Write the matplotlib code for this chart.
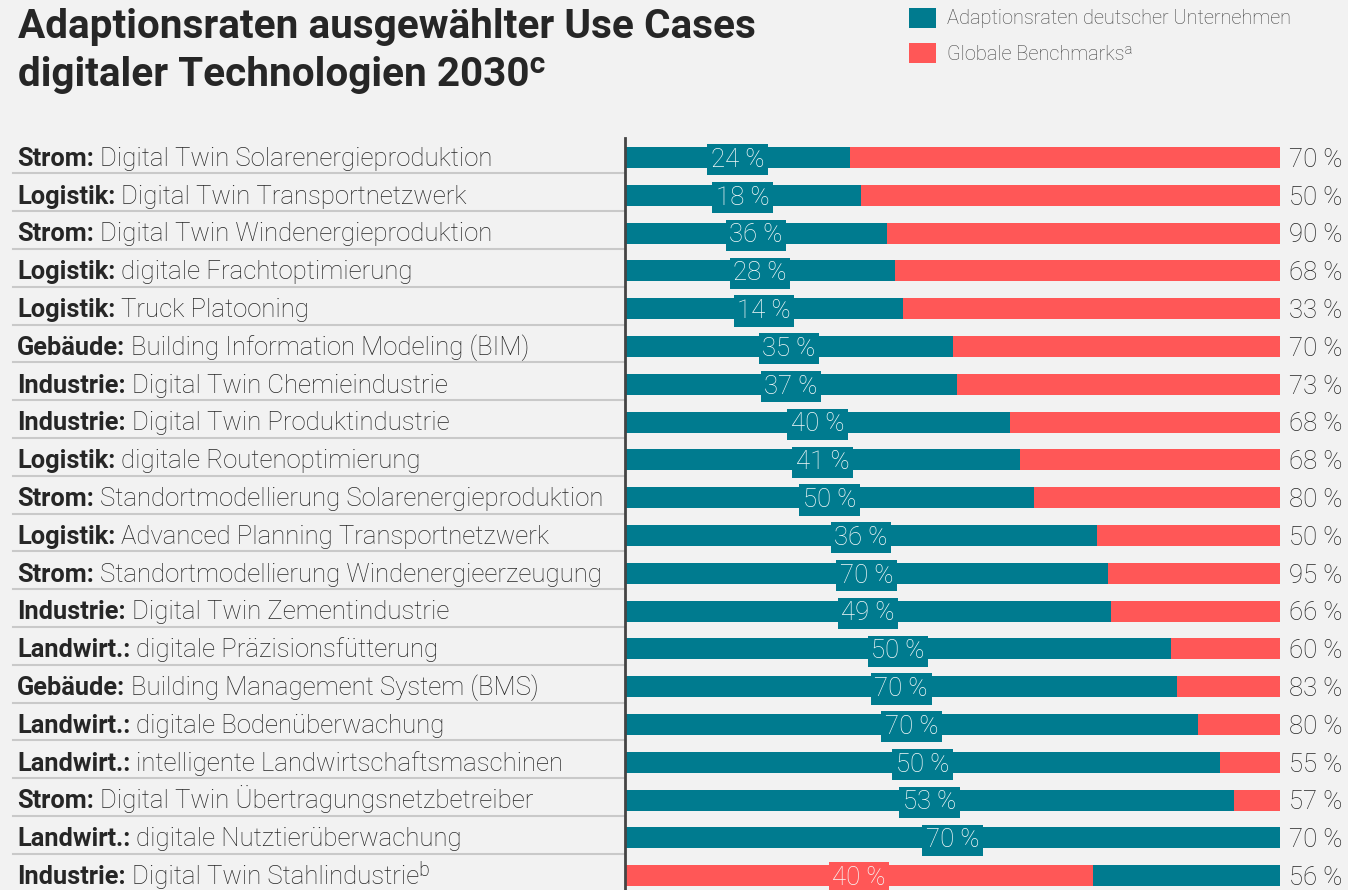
import matplotlib
matplotlib.use("Agg")
import matplotlib.pyplot as plt
from matplotlib.patches import Rectangle
from matplotlib.transforms import blended_transform_factory

# Data
categories = [
    "Strom:", "Logistik:", "Strom:", "Logistik:", "Logistik:",
    "Gebäude:", "Industrie:", "Industrie:", "Logistik:", "Strom:",
    "Logistik:", "Strom:", "Industrie:", "Landwirt.:", "Gebäude:",
    "Landwirt.:", "Landwirt.:", "Strom:", "Landwirt.:", "Industrie:",
]
use_cases = [
    "Digital Twin Solarenergieproduktion",
    "Digital Twin Transportnetzwerk",
    "Digital Twin Windenergieproduktion",
    "digitale Frachtoptimierung",
    "Truck Platooning",
    "Building Information Modeling (BIM)",
    "Digital Twin Chemieindustrie",
    "Digital Twin Produktindustrie",
    "digitale Routenoptimierung",
    "Standortmodellierung Solarenergieproduktion",
    "Advanced Planning Transportnetzwerk",
    "Standortmodellierung Windenergieerzeugung",
    "Digital Twin Zementindustrie",
    "digitale Präzisionsfütterung",
    "Building Management System (BMS)",
    "digitale Bodenüberwachung",
    "intelligente Landwirtschaftsmaschinen",
    "Digital Twin Übertragungsnetzbetreiber",
    "digitale Nutztierüberwachung",
    "Digital Twin Stahlindustrie\u1d47",
]
de_rates = [24, 18, 36, 28, 14, 35, 37, 40, 41, 50, 36, 70, 49, 50, 70, 70, 50, 53, 70, 40]
benchmarks = [70, 50, 90, 68, 33, 70, 73, 68, 68, 80, 50, 95, 66, 60, 83, 80, 55, 57, 70, 56]
# last row is drawn with the colours swapped in the original
swapped = [False] * 19 + [True]

TEAL = "#007b8f"
RED = "#ff5757"
BG = "#f2f2f2"
TEXT = "#262626"

W, H = 1348, 890
plt.rcParams["font.family"] = ["Roboto", "DejaVu Sans"]

fig = plt.figure(figsize=(W / 100, H / 100), dpi=100, facecolor=BG)
ax = fig.add_axes([625 / W, 0, 655 / W, (890 - 138) / H])
ax.set_facecolor(BG)
ax.set_xlim(0, 1)
ax.set_ylim(19.38, -0.516)

for s in ["top", "right", "bottom"]:
    ax.spines[s].set_visible(False)
ax.spines["left"].set_color("#444444")
ax.spines["left"].set_linewidth(2)
ax.set_xticks([])
ax.set_yticks([])

trans = blended_transform_factory(fig.transFigure, ax.transData)

for i, (de, bench, sw) in enumerate(zip(de_rates, benchmarks, swapped)):
    share = de / bench
    first, second = (RED, TEAL) if sw else (TEAL, RED)
    ax.barh(i, share, height=0.556, color=first, linewidth=0)
    ax.barh(i, 1 - share, left=share, height=0.556, color=second, linewidth=0)
    ax.text(share / 2, i + 0.06, f"{de} %", ha="center", va="center",
            fontsize=18.5, fontweight="light", color="#f6fafa",
            bbox=dict(boxstyle="square,pad=0.14", fc=first, ec="none"))
    ax.text(1 + 9 / 655, i + 0.06, f"{bench} %", ha="left", va="center",
            fontsize=18.5, fontweight="light", color=TEXT)
    # separator line under each row label
    ax.plot([13 / W, 624 / W], [i + 0.42, i + 0.42], transform=trans,
            color="#c9c9c9", lw=1.5, clip_on=False)

# row labels: bold category followed by the use case
fig.canvas.draw()
renderer = fig.canvas.get_renderer()
for i, (cat, case) in enumerate(zip(categories, use_cases)):
    t = fig.text(17 / W, i + 0.22, cat, transform=trans, ha="left", va="baseline",
                 fontsize=18.3, fontweight="bold", color=TEXT)
    bb = t.get_window_extent(renderer)
    fig.text((bb.x1 + 6) / W, i + 0.22, case, transform=trans, ha="left",
             va="baseline", fontsize=18.5, fontweight="light", color=TEXT)

# title
fig.text(18 / W, 1 - 38 / H, "Adaptionsraten ausgewählter Use Cases",
         ha="left", va="baseline", fontsize=29.2, fontweight="bold", color=TEXT)
fig.text(18 / W, 1 - 86 / H, "digitaler Technologien 2030\u1d9c",
         ha="left", va="baseline", fontsize=29.2, fontweight="bold", color=TEXT)

# legend
legend_items = [("Adaptionsraten deutscher Unternehmen", TEAL),
                ("Globale Benchmarks\u1d43", RED)]
for k, (label, col) in enumerate(legend_items):
    top = 8 + k * 35
    fig.add_artist(Rectangle((909 / W, 1 - (top + 20) / H), 27 / W, 20 / H,
                             transform=fig.transFigure, fc=col, ec="none"))
    fig.text(947 / W, 1 - (top + 11) / H, label, ha="left", va="center",
             fontsize=14.4, fontweight="light", color="#444444")

fig.savefig("out.png", dpi=100, facecolor=BG)
